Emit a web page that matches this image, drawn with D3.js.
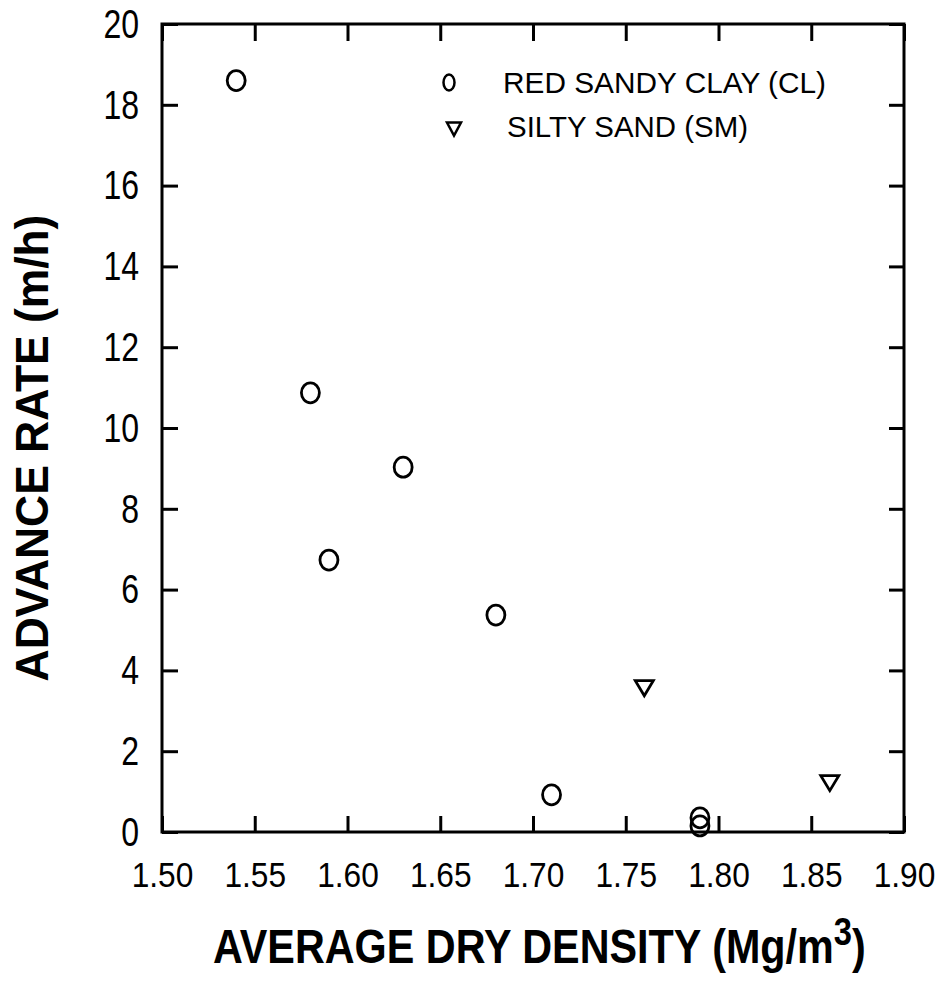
<!DOCTYPE html>
<html><head><meta charset="utf-8">
<script src="https://cdn.jsdelivr.net/npm/d3@7"></script>
<style>body{margin:0;background:#fff;} svg{display:block;}</style>
</head><body>
<svg id="chart" width="943" height="993"></svg>
<script>
// Data
const clayDensity = [1.54, 1.58, 1.59, 1.63, 1.68, 1.71, 1.79, 1.79];
const clayRate    = [18.6, 10.87, 6.73, 9.03, 5.37, 0.92, 0.35, 0.15];
const sandDensity = [1.76, 1.86];
const sandRate    = [3.56, 1.21];
const xTicks = [1.50, 1.55, 1.60, 1.65, 1.70, 1.75, 1.80, 1.85, 1.90];
const yTicks = [0, 2, 4, 6, 8, 10, 12, 14, 16, 18, 20];
const legendLabels = ["RED SANDY CLAY (CL)", "SILTY SAND (SM)"];

const svg = d3.select("#chart");
const FONT = "'Liberation Sans', Arial, sans-serif";
const L = 162, R = 904, T = 24, B = 832;
const x = d3.scaleLinear().domain([1.5, 1.9]).range([L, R]);
const y = d3.scaleLinear().domain([0, 20]).range([B, T]);

// Axes (ticks inward on all four sides)
const gx = svg.append("g").attr("transform", `translate(0,${B})`)
  .call(d3.axisBottom(x).tickValues(xTicks).tickFormat(d3.format(".2f")).tickSizeInner(-16).tickSizeOuter(0));
const gxt = svg.append("g").attr("transform", `translate(0,${T})`)
  .call(d3.axisTop(x).tickValues(xTicks).tickFormat("").tickSizeInner(-17).tickSizeOuter(0));
const gy = svg.append("g").attr("transform", `translate(${L},0)`)
  .call(d3.axisLeft(y).tickValues(yTicks).tickFormat(d3.format("d")).tickSizeInner(-16).tickSizeOuter(0));
const gyr = svg.append("g").attr("transform", `translate(${R},0)`)
  .call(d3.axisRight(y).tickValues(yTicks).tickFormat("").tickSizeInner(-15).tickSizeOuter(0));

[gx, gxt, gy, gyr].forEach(g => {
  g.select(".domain").remove();
  g.selectAll(".tick line").attr("stroke", "#000").attr("stroke-width", 3);
});

gx.selectAll(".tick text")
  .attr("font-family", FONT).attr("font-size", 36).attr("fill", "#000")
  .attr("y", 55).attr("dy", null)
  .attr("transform", "scale(0.88,1)");
gy.selectAll(".tick text")
  .attr("font-family", FONT).attr("font-size", 40).attr("fill", "#000")
  .attr("x", -23 / 0.8).attr("dy", "0.33em")
  .attr("transform", "scale(0.8,1)");

// Frame
svg.append("rect").attr("x", L).attr("y", T).attr("width", R - L).attr("height", B - T)
  .attr("fill", "none").attr("stroke", "#000").attr("stroke-width", 3);

// Markers
const clay = clayDensity.map((d, i) => ({x: d, y: clayRate[i]}));
const sand = sandDensity.map((d, i) => ({x: d, y: sandRate[i]}));

svg.append("g").selectAll("ellipse").data(clay).join("ellipse")
  .attr("cx", d => x(d.x)).attr("cy", d => y(d.y))
  .attr("rx", 9).attr("ry", 10)
  .attr("fill", "none").attr("stroke", "#000").attr("stroke-width", 2.8);

const tri = (w, h) => `M${-w/2},${-h/2}L${w/2},${-h/2}L0,${h/2}Z`;
svg.append("g").selectAll("path").data(sand).join("path")
  .attr("transform", d => `translate(${x(d.x)},${y(d.y)})`)
  .attr("d", tri(18, 15))
  .attr("fill", "none").attr("stroke", "#000").attr("stroke-width", 2.8).attr("stroke-linejoin", "miter");

// Legend
svg.append("ellipse").attr("cx", 449).attr("cy", 82.5).attr("rx", 5.5).attr("ry", 8)
  .attr("fill", "none").attr("stroke", "#000").attr("stroke-width", 2.5);
svg.append("path").attr("transform", "translate(454,129)").attr("d", tri(14, 13))
  .attr("fill", "none").attr("stroke", "#000").attr("stroke-width", 2.5);
svg.append("text").attr("x", 503).attr("y", 93).attr("font-family", FONT).attr("font-size", 29)
  .attr("textLength", 323).attr("lengthAdjust", "spacingAndGlyphs").text(legendLabels[0]);
svg.append("text").attr("x", 507).attr("y", 137).attr("font-family", FONT).attr("font-size", 29)
  .attr("textLength", 241).attr("lengthAdjust", "spacingAndGlyphs").text(legendLabels[1]);

// X title
const xt = svg.append("text").attr("font-family", FONT).attr("font-size", 48).attr("font-weight", "bold")
  .attr("x", 0).attr("y", 0);
xt.append("tspan").text("AVERAGE DRY DENSITY (Mg/m");
xt.append("tspan").attr("font-size", 38).attr("dy", -18).text("3");
xt.append("tspan").attr("dy", 18).text(")");
{
  const w = xt.node().getBBox().width;
  const s = 653 / w;
  xt.attr("transform", `translate(213,963) scale(${s},1)`);
}

// Y title
const yt = svg.append("text").attr("font-family", FONT).attr("font-size", 46).attr("font-weight", "bold")
  .attr("text-anchor", "middle").text("ADVANCE RATE (m/h)");
{
  const w = yt.node().getBBox().width;
  const s = 467 / w;
  yt.attr("transform", `translate(48,448) rotate(-90) scale(${s},1)`);
}
</script>
</body></html>
